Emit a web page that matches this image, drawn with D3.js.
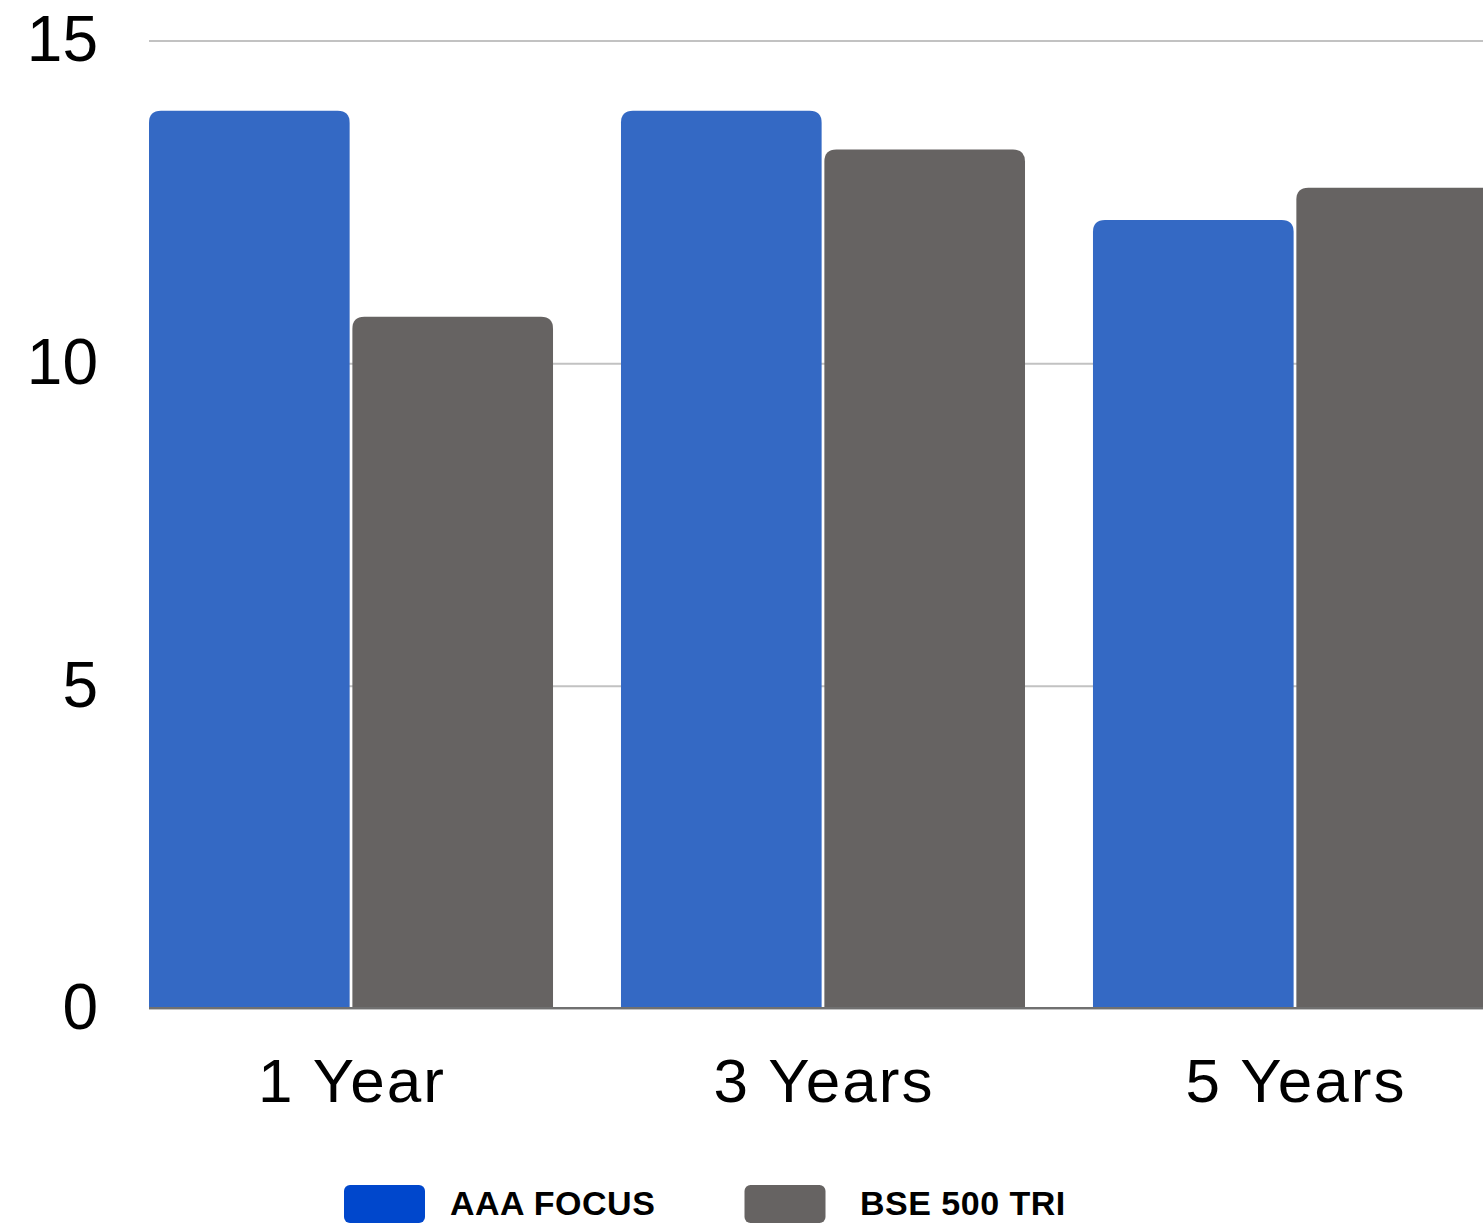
<!DOCTYPE html>
<html>
<head>
<meta charset="utf-8">
<script src="https://cdn.jsdelivr.net/npm/d3@7"></script>
<style>
  html, body { margin: 0; padding: 0; background: #fff; }
  svg { display: block; }
</style>
</head>
<body>
<svg id="chart" width="1483" height="1224"></svg>
<script>
const categories = ["1 Year", "3 Years", "5 Years"];
const seriesNames = ["AAA FOCUS", "BSE 500 TRI"];
const aaaFocus = [13.91, 13.91, 12.22];
const bse500 = [10.72, 13.31, 12.72];
const yTicks = [0, 5, 10, 15];

const barColors = ["#3469C4", "#666362"];
const legendColors = ["#0047CC", "#666362"];

const svg = d3.select("#chart");
const W = 1483;

const y = d3.scaleLinear().domain([0, 15]).range([1008.5, 40.5]);
const x0 = d3.scaleBand().domain(categories).range([149, 1497]).paddingInner(0.144).paddingOuter(0);
const x1 = d3.scaleBand().domain(seriesNames).range([0, x0.bandwidth()]).paddingInner(0.0135).paddingOuter(0);

const data = categories.map((c, i) => ({
  cat: c,
  vals: [ {s: seriesNames[0], v: aaaFocus[i]}, {s: seriesNames[1], v: bse500[i]} ]
}));

// gridlines
const grid = svg.append("g").attr("transform", "translate(149,0)")
  .call(d3.axisLeft(y).tickValues(yTicks).tickSize(-(W - 149)).tickFormat(""));
grid.select(".domain").remove();
grid.selectAll(".tick line").attr("stroke", "#c2c2c2").attr("stroke-width", 2);

// tick labels
const yAxis = svg.append("g").attr("transform", "translate(98,0)")
  .call(d3.axisLeft(y).tickValues(yTicks).tickSize(0).tickPadding(0));
yAxis.select(".domain").remove();
yAxis.selectAll(".tick text")
  .attr("font-family", "'Liberation Sans', Arial, sans-serif")
  .attr("font-size", 64)
  .attr("fill", "#000")
  .attr("dy", "0.32em")
  .attr("x", 0);

function roundedTop(x, yTop, w, h, r) {
  r = Math.min(r, w / 2, h);
  return `M${x},${yTop + h}V${yTop + r}Q${x},${yTop} ${x + r},${yTop}H${x + w - r}Q${x + w},${yTop} ${x + w},${yTop + r}V${yTop + h}Z`;
}

// bars
const groups = svg.append("g").selectAll("g").data(data).join("g")
  .attr("transform", d => `translate(${x0(d.cat)},0)`);
groups.selectAll("path").data(d => d.vals).join("path")
  .attr("d", d => roundedTop(x1(d.s), y(d.v), x1.bandwidth(), y(0) - y(d.v), 12))
  .attr("fill", (d, i) => barColors[i]);

// baseline
svg.append("line")
  .attr("x1", 149).attr("x2", W).attr("y1", y(0) - 0.5).attr("y2", y(0) - 0.5)
  .attr("stroke", "#707070").attr("stroke-width", 2);

// category labels
const xAxis = svg.append("g").attr("transform", `translate(0,${y(0)})`)
  .call(d3.axisBottom(x0).tickSize(0).tickPadding(0));
xAxis.select(".domain").remove();
xAxis.selectAll(".tick text")
  .attr("font-family", "'Liberation Sans', Arial, sans-serif")
  .attr("font-size", 62)
  .attr("letter-spacing", 2)
  .attr("fill", "#000")
  .attr("dy", 0)
  .attr("x", 1)
  .attr("y", 1102 - y(0));

// legend
const swatchX = [344, 744.5];
const labelX = [450, 860];
const legend = svg.append("g").selectAll("g").data(seriesNames).join("g");
legend.append("rect")
  .attr("x", (d, i) => swatchX[i]).attr("y", 1185).attr("width", 81).attr("height", 38).attr("rx", 6)
  .attr("fill", (d, i) => legendColors[i]);
legend.append("text")
  .attr("x", (d, i) => labelX[i]).attr("y", 1215)
  .attr("font-family", "'Liberation Sans', Arial, sans-serif")
  .attr("font-weight", "bold")
  .attr("font-size", 34)
  .attr("letter-spacing", 0.5)
  .attr("fill", "#000")
  .text(d => d);
</script>
</body>
</html>
